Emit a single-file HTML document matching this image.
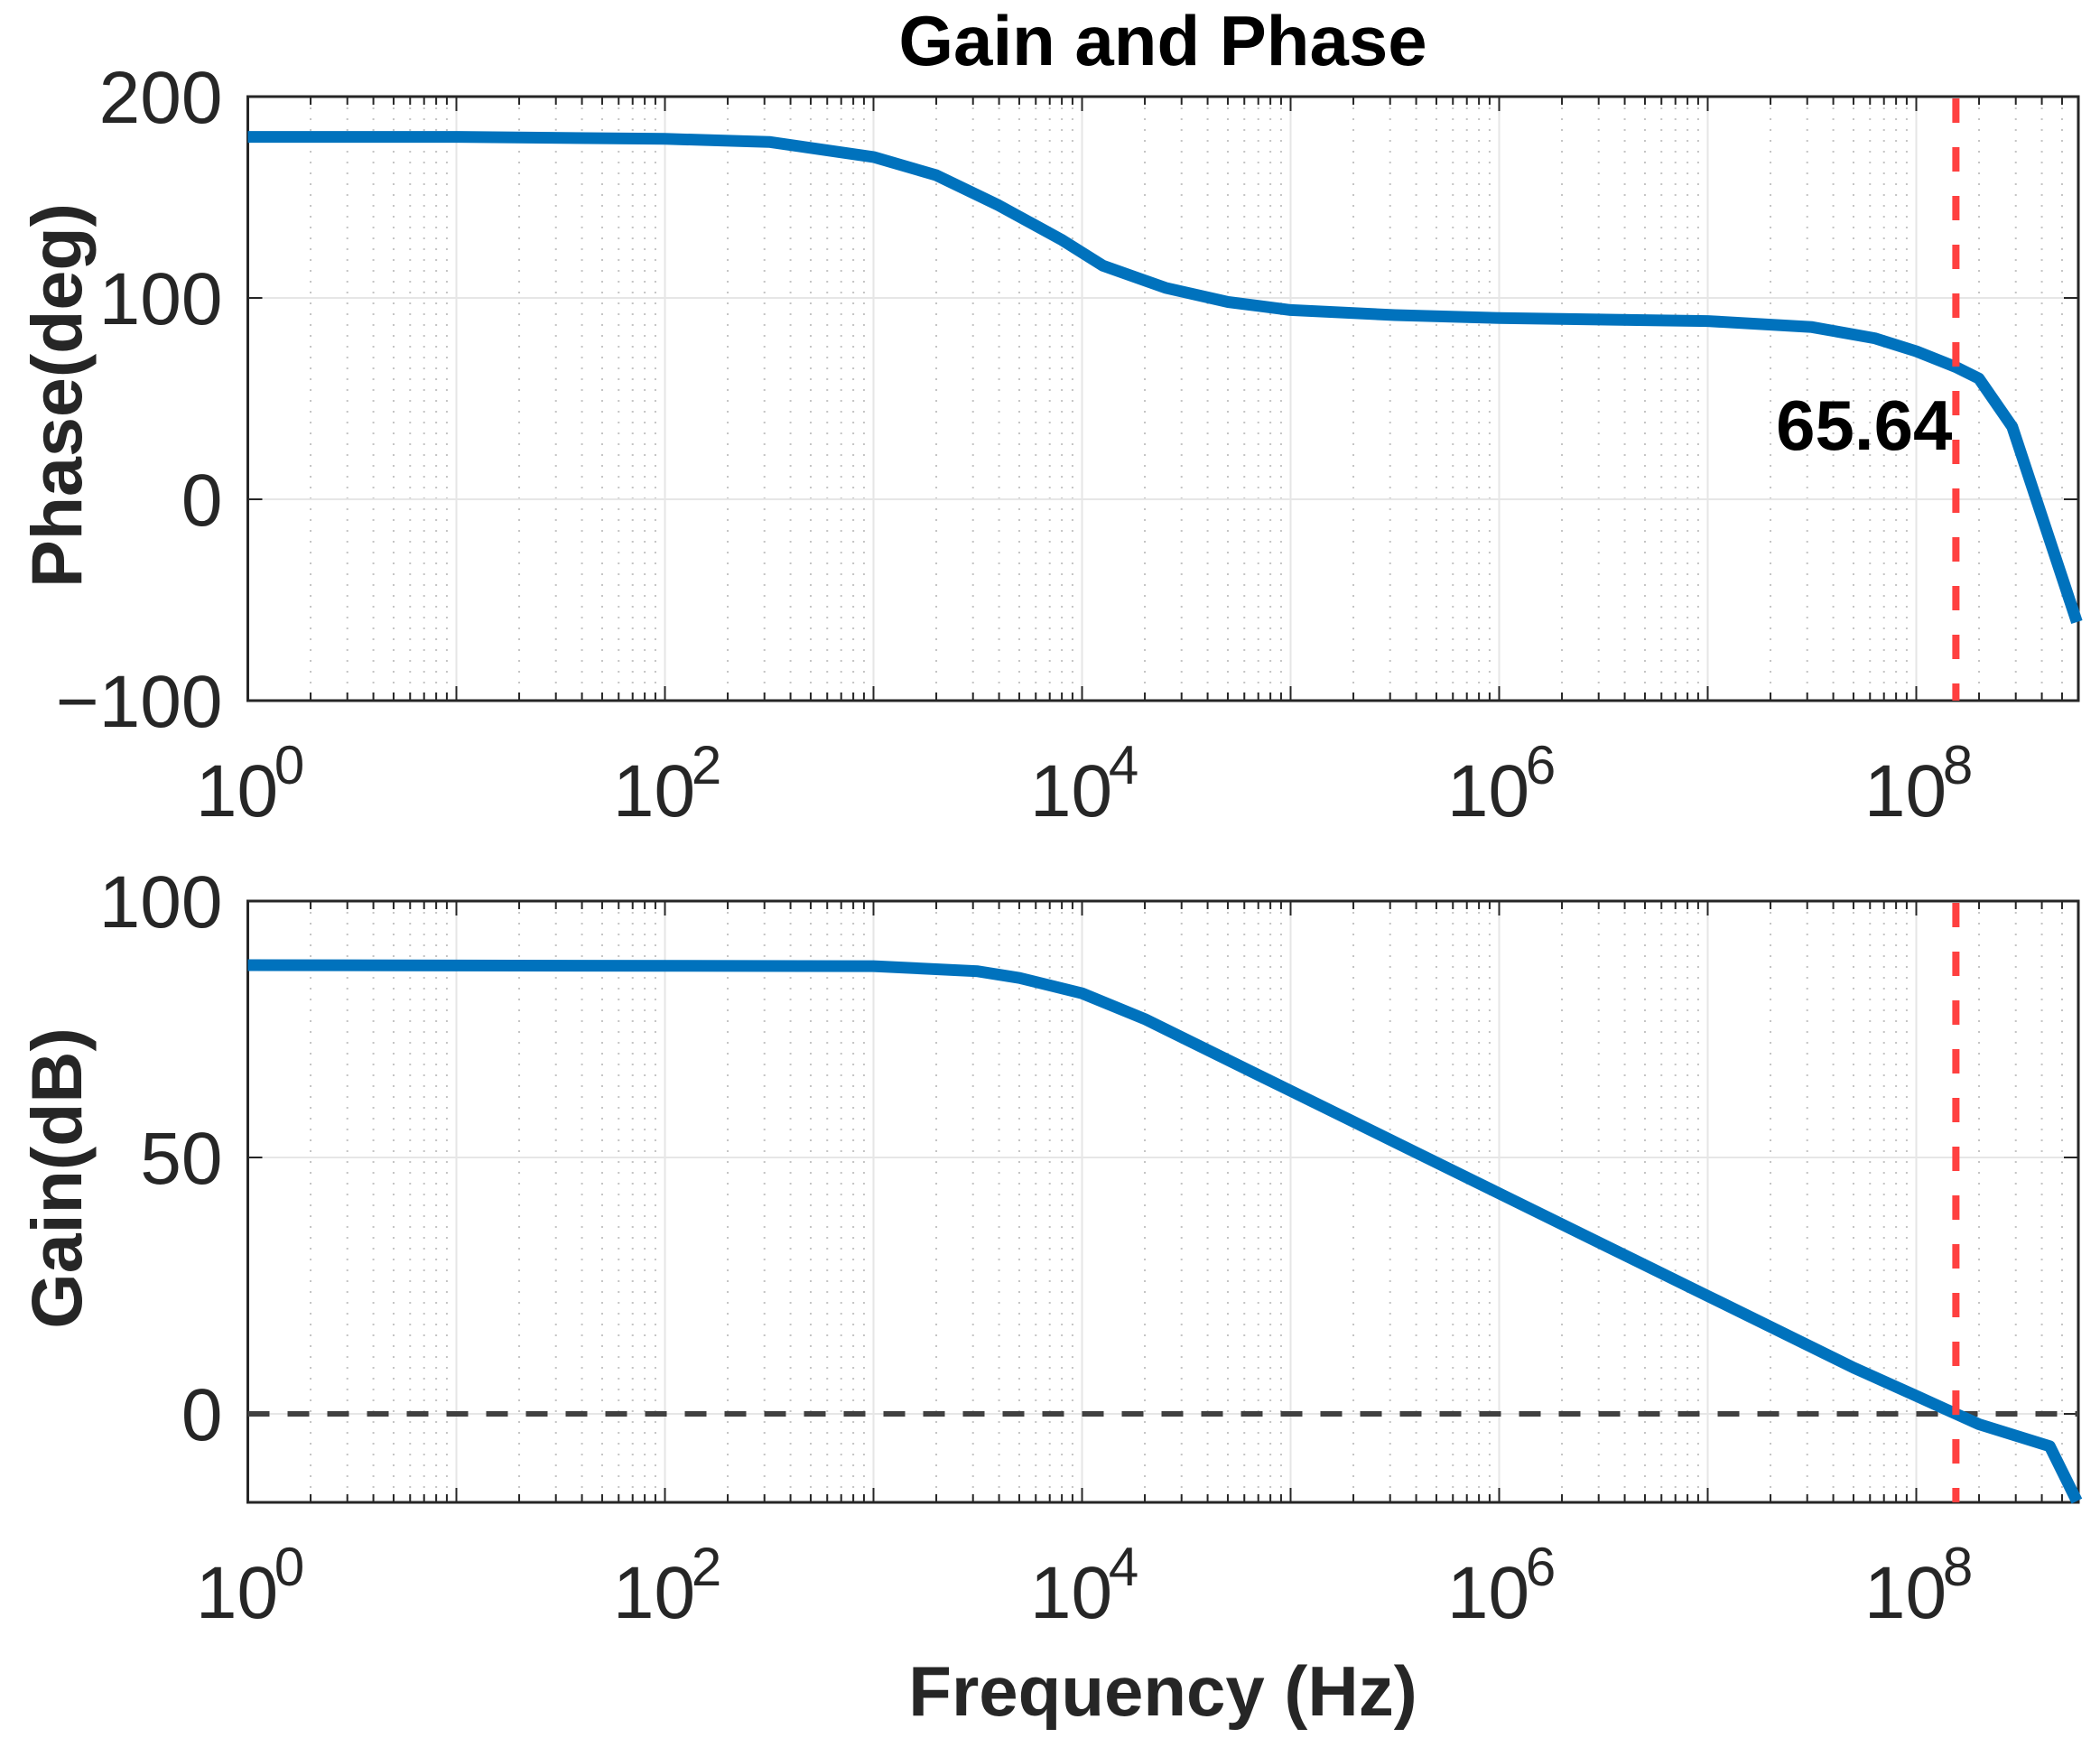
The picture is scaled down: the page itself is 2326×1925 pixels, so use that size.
<!DOCTYPE html>
<html><head><meta charset="utf-8">
<style>
html,body{margin:0;padding:0;background:#fff;}
svg{display:block;font-family:"Liberation Sans",Arial,sans-serif;}
</style></head>
<body>
<svg id="chart" width="2326" height="1925" viewBox="0 0 2326 1925" xmlns="http://www.w3.org/2000/svg"></svg>
<script>
// ---- data ----
const phaseFreqExp = [0, 1, 2, 2.5, 3, 3.3, 3.6, 3.9, 4.1, 4.4, 4.7, 5, 5.5, 6, 7, 7.5, 7.8, 8.0, 8.19, 8.3, 8.46, 8.77];
const phaseDeg     = [180, 180, 179, 177.5, 170, 161, 146, 129, 116, 105, 98, 94, 91.5, 90, 88.5, 85.5, 80, 73.5, 65.64, 60, 36, -61];
const gainFreqExp  = [0, 3, 3.5, 3.7, 4, 4.3, 5, 6, 7, 7.7, 8, 8.19, 8.3, 8.64, 8.77];
const gainDb       = [87.5, 87.3, 86.3, 85, 82, 77, 63, 43, 23, 9, 3.5, 0, -2, -6.3, -17];
const xTickExp = [0, 2, 4, 6, 8];
const phaseTicks = [-100, 0, 100, 200];
const gainTicks = [0, 50, 100];
const crossoverExp = [8.19];
const phaseMarginLabel = ["65.64"];

const NS = "http://www.w3.org/2000/svg";
const svg = document.getElementById('chart');
function el(tag, attrs, parent){ const e=document.createElementNS(NS,tag); for(const k in attrs) e.setAttribute(k,attrs[k]); (parent||svg).appendChild(e); return e; }

const L = 274.5, R = 2302, DEC = 231;
const xScale = e => L + e*DEC;
const xMaxExp = (R-L)/DEC;
const P = {top:107, bottom:776, vmin:-100, vmax:200};
const G = {top:998, bottom:1664, vmin:-17.25, vmax:100};
const yScale = (ax,v) => ax.bottom - (v-ax.vmin)/(ax.vmax-ax.vmin)*(ax.bottom-ax.top);

function axes(ax, ticks, name, ylabel, ylabelY){
  const g = el('g',{});
  
  
  for(let d=0; d<Math.ceil(xMaxExp); d++){
    for(let m=2;m<=9;m++){
      const e=d+Math.log10(m); if(e>xMaxExp) continue;
      const x=xScale(e);
      el('line',{x1:x,x2:x,y1:ax.top,y2:ax.bottom,stroke:'#c4c4c4','stroke-width':2,'stroke-dasharray':'2 10'},g);
      el('line',{x1:x,x2:x,y1:ax.top,y2:ax.top+9,stroke:'#262626','stroke-width':2},g);
      el('line',{x1:x,x2:x,y1:ax.bottom,y2:ax.bottom-9,stroke:'#262626','stroke-width':2},g);
    }
  }
  for(let d=1; d<=Math.floor(xMaxExp); d++){
    const x=xScale(d);
    el('line',{x1:x,x2:x,y1:ax.top,y2:ax.bottom,stroke:'#e6e6e6','stroke-width':2},g);
    el('line',{x1:x,x2:x,y1:ax.top,y2:ax.top+16,stroke:'#262626','stroke-width':2},g);
    el('line',{x1:x,x2:x,y1:ax.bottom,y2:ax.bottom-16,stroke:'#262626','stroke-width':2},g);
  }
  ticks.forEach(t=>{
    const y=yScale(ax,t);
    el('line',{x1:L,x2:R,y1:y,y2:y,stroke:'#e6e6e6','stroke-width':2},g);
    el('line',{x1:L,x2:L+16,y1:y,y2:y,stroke:'#262626','stroke-width':2},g);
    el('line',{x1:R,x2:R-16,y1:y,y2:y,stroke:'#262626','stroke-width':2},g);
    const tl=el('text',{x:L-28,y:y+29,'text-anchor':'end','font-size':82,fill:'#262626'},g);
    
    
    tl.textContent = t<0 ? '\u2212'+Math.abs(t) : String(t);
  });
  xTickExp.forEach(e=>{
    const x=xScale(e);
    const t=el('text',{x:x-12,y:ax.bottom+128,'text-anchor':'middle','font-size':82,fill:'#262626'},g);
    
    
    t.textContent='10';
    const s=el('text',{x:x+46,y:ax.bottom+92,'text-anchor':'middle','font-size':60,fill:'#262626'},g);
    
    
    s.textContent=String(e);
  });
  el('rect',{x:L,y:ax.top,width:R-L,height:ax.bottom-ax.top,fill:'none',stroke:'#262626','stroke-width':3},g);
  const yl=el('text',{x:0,y:0,transform:`translate(90 ${ylabelY}) rotate(-90)`,'text-anchor':'middle','font-size':79,'font-weight':'bold',fill:'#262626'},g);
  
  
  yl.textContent=ylabel;
}
axes(P, phaseTicks, 'phase', 'Phase(deg)', 438);
axes(G, gainTicks, 'gain', 'Gain(dB)', 1305);

const zl=el('line',{x1:L,x2:R,y1:yScale(G,0),y2:yScale(G,0),stroke:'#404040','stroke-width':6,'stroke-dasharray':'24 20'});



function series(ax, xs, ys, name){
  const d = xs.map((e,i)=>(i?'L':'M')+xScale(e).toFixed(1)+' '+yScale(ax,ys[i]).toFixed(1)).join(' ');
  const p=el('path',{d:d,fill:'none',stroke:'#0072BD','stroke-width':13,'stroke-linejoin':'round'});
  
  
}
series(P, phaseFreqExp, phaseDeg, 'phase-curve');
series(G, gainFreqExp, gainDb, 'gain-curve');

[P,G].forEach((ax,i)=>{
  const x=xScale(crossoverExp[0]);
  const l=el('line',{x1:x,x2:x,y1:ax.top+2,y2:ax.bottom,stroke:'#FF4040','stroke-width':8,'stroke-dasharray':'27 27'});
  
  
});

const ann=el('text',{x:xScale(crossoverExp[0])-4,y:498,'text-anchor':'end','font-size':78,'font-weight':'bold',fill:'#000'});


ann.textContent=phaseMarginLabel[0];

const title=el('text',{x:1288,y:72,'text-anchor':'middle','font-size':78,'font-weight':'bold',fill:'#000'});


title.textContent='Gain and Phase';

const xl=el('text',{x:1288,y:1900,'text-anchor':'middle','font-size':78,'font-weight':'bold',fill:'#262626'});


xl.textContent='Frequency (Hz)';
</script>
</body></html>
